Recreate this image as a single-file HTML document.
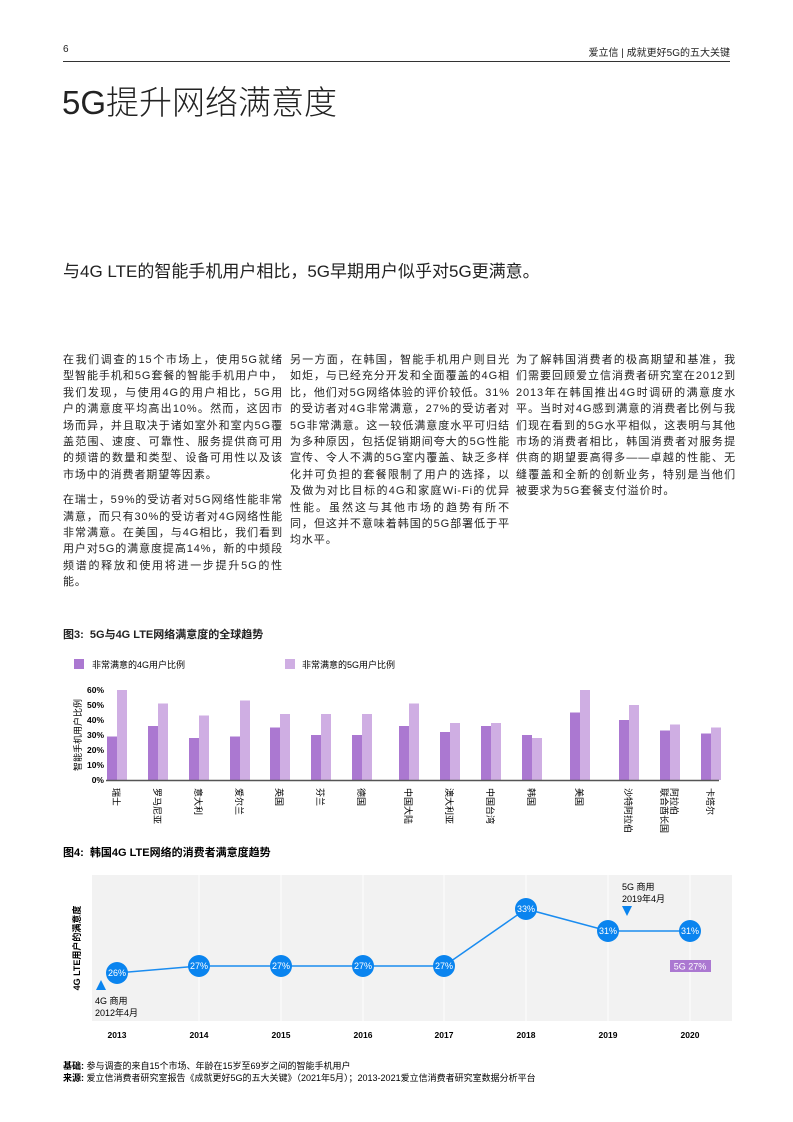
<!DOCTYPE html><html><head><meta charset="utf-8"><style>
body{margin:0;width:793px;height:1122px;background:#fff;font-family:"Liberation Sans","Noto Sans CJK SC",sans-serif;color:#222;position:relative;overflow:hidden}
.a{position:absolute}
.col{position:absolute;top:352px;width:220px;font-size:11px;line-height:16.4px;letter-spacing:0.9px;text-align:justify}
.col p{margin:0 0 9px}
</style></head><body>
<div class="a" style="left:63px;top:44px;font-size:10px">6</div>
<div class="a" style="right:63px;top:44px;font-size:10px">爱立信 | 成就更好5G的五大关键</div>
<div class="a" style="left:63px;top:61px;width:667px;border-top:1px solid #333"></div>
<div class="a" style="left:62px;top:76px;font-size:33px;font-weight:300">5G提升网络满意度</div>
<div class="a" style="left:63px;top:257px;font-size:17px">与4G LTE的智能手机用户相比，5G早期用户似乎对5G更满意。</div>
<div class="col" style="left:63px"><p>在我们调查的15个市场上，使用5G就绪型智能手机和5G套餐的智能手机用户中，我们发现，与使用4G的用户相比，5G用户的满意度平均高出10%。然而，这因市场而异，并且取决于诸如室外和室内5G覆盖范围、速度、可靠性、服务提供商可用的频谱的数量和类型、设备可用性以及该市场中的消费者期望等因素。</p><p>在瑞士，59%的受访者对5G网络性能非常满意，而只有30%的受访者对4G网络性能非常满意。在美国，与4G相比，我们看到用户对5G的满意度提高14%，新的中频段频谱的释放和使用将进一步提升5G的性能。</p></div>
<div class="col" style="left:290px"><p>另一方面，在韩国，智能手机用户则目光如炬，与已经充分开发和全面覆盖的4G相比，他们对5G网络体验的评价较低。31%的受访者对4G非常满意，27%的受访者对5G非常满意。这一较低满意度水平可归结为多种原因，包括促销期间夸大的5G性能宣传、令人不满的5G室内覆盖、缺乏多样化并可负担的套餐限制了用户的选择，以及做为对比目标的4G和家庭Wi-Fi的优异性能。虽然这与其他市场的趋势有所不同，但这并不意味着韩国的5G部署低于平均水平。</p></div>
<div class="col" style="left:516px"><p>为了解韩国消费者的极高期望和基准，我们需要回顾爱立信消费者研究室在2012到2013年在韩国推出4G时调研的满意度水平。当时对4G感到满意的消费者比例与我们现在看到的5G水平相似，这表明与其他市场的消费者相比，韩国消费者对服务提供商的期望要高得多——卓越的性能、无缝覆盖和全新的创新业务，特别是当他们被要求为5G套餐支付溢价时。</p></div>
<div class="a" style="left:63px;top:626px;font-size:11px;font-weight:bold">图3:&nbsp; 5G与4G LTE网络满意度的全球趋势</div>
<svg class="a" style="left:0;top:0" width="793" height="1122" font-family="Liberation Sans,Noto Sans CJK SC,sans-serif">
<rect x="74" y="659" width="10" height="10" fill="#ab78d1"/><text x="92" y="668" font-size="9">非常满意的4G用户比例</text>
<rect x="285" y="659" width="10" height="10" fill="#cfaee3"/><text x="302" y="668" font-size="9">非常满意的5G用户比例</text>
<g font-size="8.5" font-weight="bold" text-anchor="end">
<text x="104" y="693">60%</text><text x="104" y="708">50%</text><text x="104" y="723">40%</text><text x="104" y="738">30%</text><text x="104" y="753">20%</text><text x="104" y="768">10%</text><text x="104" y="783">0%</text></g>
<text transform="translate(81,735) rotate(-90)" font-size="9" text-anchor="middle">智能手机用户比例</text>
<g id="bars"></g>
<line x1="106" y1="780.5" x2="719" y2="780.5" stroke="#555" stroke-width="1.5"/>
<g id="lbl" font-size="9"></g>
<text x="63" y="856" font-size="11" font-weight="bold">图4:&nbsp; 韩国4G LTE网络的消费者满意度趋势</text>
<rect x="92" y="875" width="640" height="146" fill="#f2f2f2"/>
<g stroke="#fff" stroke-width="1"><line x1="199" y1="875" x2="199" y2="1021"/><line x1="281" y1="875" x2="281" y2="1021"/><line x1="363" y1="875" x2="363" y2="1021"/><line x1="444" y1="875" x2="444" y2="1021"/><line x1="526" y1="875" x2="526" y2="1021"/><line x1="608" y1="875" x2="608" y2="1021"/><line x1="690" y1="875" x2="690" y2="1021"/></g>
<text transform="translate(80,948) rotate(-90)" font-size="9" font-weight="bold" text-anchor="middle">4G LTE用户的满意度</text>
<polyline points="117,973 199,966 281,966 363,966 444,966 526,909 608,931 690,931" fill="none" stroke="#1a8cf0" stroke-width="1.5"/>
<g fill="#0a84ef"><circle cx="117" cy="973" r="11"/><circle cx="199" cy="966" r="11"/><circle cx="281" cy="966" r="11"/><circle cx="363" cy="966" r="11"/><circle cx="444" cy="966" r="11"/><circle cx="526" cy="909" r="11"/><circle cx="608" cy="931" r="11"/><circle cx="690" cy="931" r="11"/></g>
<g fill="#fff" font-size="9" text-anchor="middle"><text x="117" y="976">26%</text><text x="199" y="969">27%</text><text x="281" y="969">27%</text><text x="363" y="969">27%</text><text x="444" y="969">27%</text><text x="526" y="912">33%</text><text x="608" y="934">31%</text><text x="690" y="934">31%</text></g>
<rect x="670" y="960" width="41" height="12" fill="#ab78d1"/><text x="690" y="969.5" fill="#fff" font-size="9" text-anchor="middle">5G 27%</text>
<polygon points="96,990 101,980 106,990" fill="#0a84ef"/>
<text x="95" y="1004" font-size="9">4G 商用</text><text x="95" y="1016" font-size="9">2012年4月</text>
<polygon points="622,906 627,916 632,906" fill="#0a84ef"/>
<text x="622" y="890" font-size="9">5G 商用</text><text x="622" y="902" font-size="9">2019年4月</text>
<g font-size="8.5" font-weight="bold" text-anchor="middle"><text x="117" y="1038">2013</text><text x="199" y="1038">2014</text><text x="281" y="1038">2015</text><text x="363" y="1038">2016</text><text x="444" y="1038">2017</text><text x="526" y="1038">2018</text><text x="608" y="1038">2019</text><text x="690" y="1038">2020</text></g>
<text x="63" y="1069" font-size="9"><tspan font-weight="bold">基础:</tspan> 参与调查的来自15个市场、年龄在15岁至69岁之间的智能手机用户</text>
<text x="63" y="1081" font-size="9"><tspan font-weight="bold">来源:</tspan> 爱立信消费者研究室报告《成就更好5G的五大关键》（2021年5月）；2013-2021爱立信消费者研究室数据分析平台</text>
</svg>
<script>
var xs=[107,148,189,230,270,311,352,399,440,481,522,570,619,660,701],
a=[29,36,28,29,35,30,30,36,32,36,30,45,40,33,31],b=[60,51,43,53,44,44,44,51,38,38,28,60,50,37,35],
n=[["瑞士"],["罗马尼亚"],["意大利"],["爱尔兰"],["英国"],["芬兰"],["德国"],["中国大陆"],["澳大利亚"],["中国台湾"],["韩国"],["美国"],["沙特阿拉伯"],["阿拉伯","联合酋长国"],["卡塔尔"]];
var s="",l="";
for(var i=0;i<15;i++){s+='<rect x="'+xs[i]+'" y="'+(780-a[i]*1.5)+'" width="10" height="'+a[i]*1.5+'" fill="#ab78d1"/><rect x="'+(xs[i]+10)+'" y="'+(780-b[i]*1.5)+'" width="10" height="'+b[i]*1.5+'" fill="#cfaee3"/>';
for(var j=0;j<n[i].length;j++){l+='<text transform="translate('+(xs[i]+6-j*10+ (n[i].length>1?5:0))+',788) rotate(90)">'+n[i][j]+'</text>';}}
document.getElementById("bars").innerHTML=s;document.getElementById("lbl").innerHTML=l;
</script>
</body></html>
